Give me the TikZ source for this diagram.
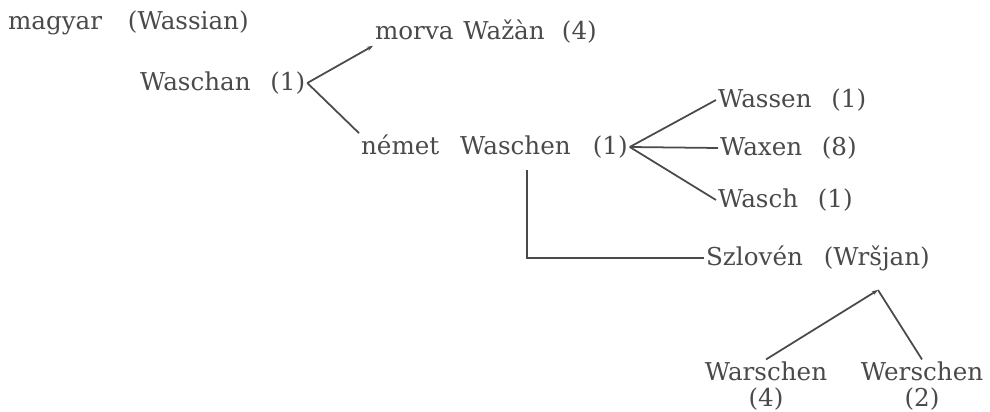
\documentclass[tikz,border=0pt]{standalone}
\usepackage{fontspec}
\setmainfont{DejaVu Serif}
\usetikzlibrary{arrows.meta}
\definecolor{ink}{HTML}{4A4A4A}

\begin{document}
\begin{tikzpicture}[scale=0.2]
            \tikzset{every node/.style={inner sep=1pt, text=ink, font=\fontsize{14}{15}\selectfont},
                     word/.style={anchor=west},
                     leaf/.style={align=center, font=\fontsize{14}{15}\selectfont},
                     branch/.style={draw=ink, line width=1pt},
                     tipped/.style={branch, -{Stealth[length=3.5pt,width=2.5pt]}}}
            \useasboundingbox (0,0) rectangle (99,-41.2);
            % upper branch
            \node [word] (magyar) at (0.6,-2.3) {magyar\hspace{1.05em}(Wassian)};
            \node [word] (waschan) at (13.8,-8.3) {Waschan\hspace{0.8em}(1)};
            \node [word] (morva) at (37.3,-3.2) {morva\hspace{0.4em}Wa\v{z}\`an\hspace{0.7em}(4)};
            \node [word] (nemet) at (35.9,-14.7) {német\hspace{0.85em}Waschen\hspace{0.9em}(1)};
            % german forms
            \node [word] (wassen) at (71.6,-10.0) {Wassen\hspace{0.8em}(1)};
            \node [word] (waxen) at (71.8,-14.8) {Waxen\hspace{0.8em}(8)};
            \node [word] (wasch) at (71.6,-20.0) {Wasch\hspace{0.8em}(1)};
            % slovene
            \node [word] (szloven) at (70.4,-25.8) {Szlovén\hspace{0.85em}(Wr\v{s}jan)};
            \node [leaf] (warschen) at (76.6,-38.6) {Warschen\\(4)};
            \node [leaf] (werschen) at (92.2,-38.6) {Werschen\\(2)};
            \coordinate (drop) at (52.7,-17.0);
            \coordinate (split) at (87.8,-29.0);
            % connectors
            \draw [tipped] (waschan.east) -- (morva.south west);
            \draw [branch] (waschan.east) -- (nemet.north west);
            \draw [branch] (nemet.east) -- (wassen.west);
            \draw [branch] (nemet.east) -- (waxen.west);
            \draw [branch] (nemet.east) -- (wasch.west);
            \draw [branch] (drop) |- (szloven.west);
            \draw [tipped] (warschen.north) -- (split);
            \draw [branch] (split) -- (werschen.north);
        \end{tikzpicture}
\end{document}
